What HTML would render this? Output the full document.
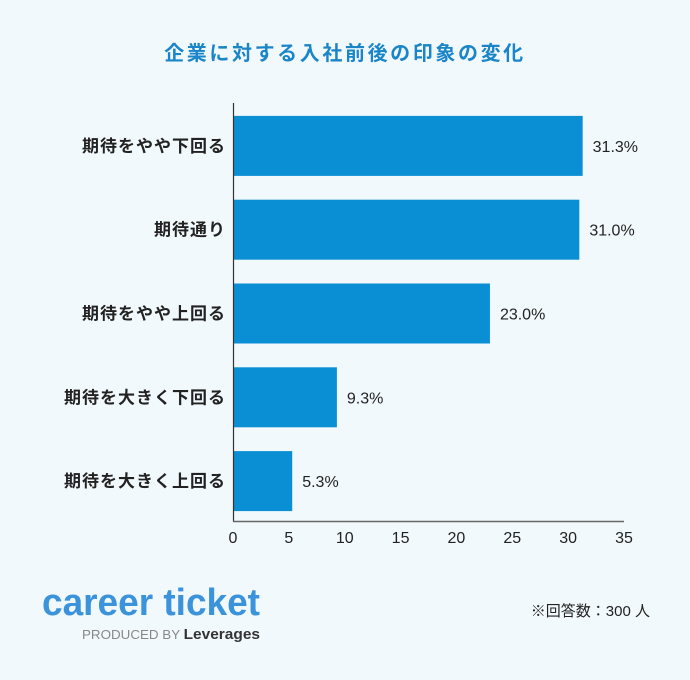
<!DOCTYPE html>
<html><head><meta charset="utf-8"><style>
body{margin:0;background:#f2f9fd;font-family:"Liberation Sans","Noto Sans CJK JP",sans-serif;}
#wrap{position:relative;width:690px;height:680px;overflow:hidden;background:#f2f9fd}
svg text{font-family:"Liberation Sans","Noto Sans CJK JP",sans-serif}
</style></head><body>
<div id="wrap">
<svg id="chart" width="690" height="680">
<text x="345" y="60" text-anchor="middle" font-size="20" font-weight="bold" fill="#1a85c8" letter-spacing="2.6">企業に対する入社前後の印象の変化</text>
<g id="bars"></g>
<line x1="233.5" y1="103" x2="233.5" y2="522" stroke="#333" stroke-width="1.2"/>
<line x1="233" y1="521.5" x2="624" y2="521.5" stroke="#666" stroke-width="1.5"/>
<text x="42" y="615" font-size="38" font-weight="bold" fill="#3b93db" textLength="218" lengthAdjust="spacingAndGlyphs">career ticket</text>
<text x="82" y="639" font-size="13" fill="#888" textLength="178" lengthAdjust="spacingAndGlyphs">PRODUCED BY <tspan font-weight="bold" fill="#333" font-size="15">Leverages</tspan></text>
<text x="650" y="616" text-anchor="end" font-size="15" fill="#222">※回答数：300 人</text>
</svg>
</div>
<script>
const categories=["期待をやや下回る","期待通り","期待をやや上回る","期待を大きく下回る","期待を大きく上回る"];
const values=[31.3,31.0,23.0,9.3,5.3];
const valueLabels=["31.3%","31.0%","23.0%","9.3%","5.3%"];
const ticks=[0,5,10,15,20,25,30,35];
const NS="http://www.w3.org/2000/svg";
const x0=233,x1=624,xmax=35,yTop=104,yBot=523;
const xs=v=>x0+(x1-x0)*v/xmax;
const band=(yBot-yTop)/categories.length, bh=60;
const g=document.getElementById('bars');
function mk(t,a){const e=document.createElementNS(NS,t);for(const k in a)e.setAttribute(k,a[k]);return e;}
categories.forEach((c,i)=>{
  const cy=yTop+band*(i+0.5);
  const r=mk('rect',{x:x0,y:cy-bh/2,width:xs(values[i])-x0,height:bh,fill:'#0b8fd4'});
  
  
  g.appendChild(r);
  const l=mk('text',{x:xs(values[i])+10,y:cy+6,'font-size':16,fill:'#222'});
  l.textContent=valueLabels[i];
  
  
  g.appendChild(l);
  const cl=mk('text',{x:226,y:cy+6,'text-anchor':'end','font-size':17,'font-weight':'bold',fill:'#222','letter-spacing':1});
  cl.textContent=c;
  
  
  g.appendChild(cl);
});
ticks.forEach(t=>{
  const tl=mk('text',{x:xs(t),y:543,'text-anchor':'middle','font-size':16,fill:'#222'});
  tl.textContent=t;
  
  
  g.appendChild(tl);
});
</script>
</body></html>
